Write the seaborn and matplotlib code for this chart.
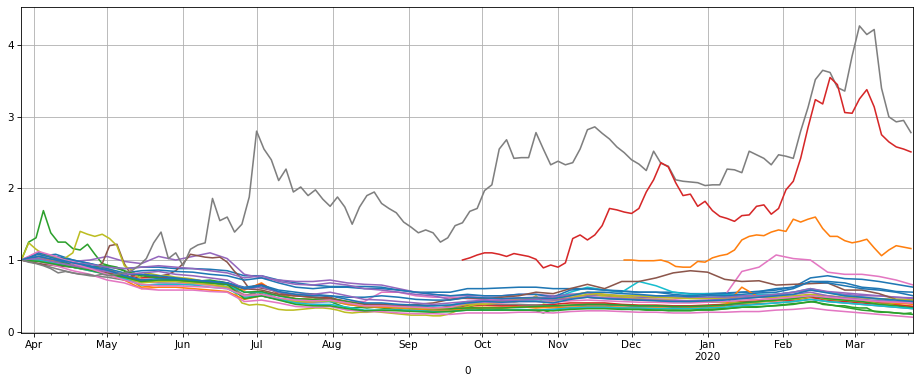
import pandas as pd
import matplotlib
matplotlib.use("Agg")
import matplotlib.pyplot as plt
import matplotlib.dates as mdates
from matplotlib.ticker import FuncFormatter
import seaborn as sns

# ------------------------------
# Data: cumulative price ratio
# 3-day series start 2019-03-27 unless stated, weekly series too
# ------------------------------
start_day = "2019-03-27"

gray_main = [1.00,0.97,0.95,0.92,0.88,0.82,0.84,0.82,0.80,0.80,
             0.78,0.80,0.78,0.80,0.82,0.85,0.92,1.02,1.24,1.39,
             1.02,1.10,0.92,1.15,1.21,1.24,1.86,1.55,1.60,1.39,
             1.50,1.88,2.80,2.55,2.40,2.11,2.27,1.95,2.02,1.90,
             1.98,1.85,1.75,1.88,1.74,1.50,1.74,1.90,1.95,1.79,
             1.72,1.66,1.53,1.46,1.38,1.42,1.38,1.25,1.31,1.48,
             1.52,1.68,1.72,1.97,2.05,2.55,2.68,2.42,2.43,2.43,
             2.78,2.55,2.33,2.38,2.33,2.36,2.55,2.82,2.86,2.77,
             2.69,2.58,2.50,2.40,2.34,2.25,2.52,2.35,2.31,2.12,
             2.10,2.09,2.08,2.04,2.05,2.05,2.27,2.26,2.22,2.52,
             2.47,2.42,2.33,2.47,2.45,2.42,2.80,3.13,3.52,3.65,
             3.62,3.41,3.36,3.85,4.27,4.15,4.22,3.40,3.00,2.93,
             2.95,2.78]

red_start = "2019-09-23"
red_main = [1.00,1.03,1.07,1.10,1.10,1.08,1.05,1.09,1.07,1.05,
            1.01,0.89,0.93,0.90,0.96,1.30,1.35,1.28,1.35,1.48,
            1.72,1.70,1.67,1.65,1.72,1.95,2.12,2.36,2.30,2.08,
            1.90,1.92,1.75,1.82,1.69,1.61,1.58,1.54,1.62,1.63,
            1.75,1.77,1.64,1.72,1.98,2.10,2.42,2.85,3.24,3.18,
            3.55,3.45,3.06,3.05,3.25,3.38,3.14,2.75,2.65,2.58,
            2.55,2.51]

orange_start = "2019-11-28"
orange_main = [1.00,1.00,0.99,0.99,0.99,1.00,0.97,0.91,0.90,0.90,
               0.98,0.97,1.03,1.06,1.08,1.14,1.28,1.33,1.35,1.34,
               1.39,1.42,1.40,1.57,1.53,1.57,1.60,1.44,1.33,1.33,
               1.27,1.24,1.26,1.29,1.17,1.06,1.14,1.20,1.18,1.16]

green_spike = [1.00,1.25,1.31,1.69,1.38,1.25,1.25,1.16,1.14,1.22,
               1.08,0.95,0.92,0.90,0.85,0.70,0.78,0.80,0.76,0.74,
               0.72,0.72,0.72,0.70,0.70,0.70,0.68,0.70,0.66,0.62,
               0.50,0.52,0.55,0.52,0.48,0.46,0.42,0.40,0.42,0.43,
               0.45,0.44,0.42,0.38,0.34,0.33,0.34,0.33,0.34,0.33,
               0.32,0.31,0.30,0.30,0.30,0.30,0.29,0.30,0.31,0.30,
               0.32,0.35,0.32,0.30,0.30,0.31,0.31,0.30,0.30,0.30,
               0.29,0.26,0.30,0.31,0.32,0.33,0.33,0.33,0.34,0.34,
               0.33,0.33,0.32,0.31,0.31,0.30,0.30,0.30,0.29,0.29,
               0.29,0.29,0.30,0.30,0.30,0.31,0.32,0.33,0.34,0.34,
               0.34,0.35,0.36,0.37,0.38,0.39,0.40,0.41,0.42,0.38,
               0.37,0.36,0.36,0.34,0.33,0.33,0.28,0.27,0.27,0.26,
               0.25,0.26]

olive_spike = [1.00,1.24,1.15,1.08,1.05,1.02,1.03,1.10,1.40,1.36,
               1.33,1.36,1.30,1.20,0.92,0.86,0.75,0.82,0.80,0.78,
               0.78,0.76,0.75,0.74,0.72,0.70,0.68,0.66,0.62,0.55,
               0.40,0.37,0.38,0.37,0.34,0.31,0.30,0.30,0.31,0.32,
               0.33,0.33,0.32,0.30,0.27,0.26,0.27,0.27,0.28,0.27,
               0.26,0.25,0.24,0.23,0.23,0.23,0.22,0.22,0.24,0.28,
               0.33,0.36,0.38,0.38,0.39,0.40,0.42,0.41,0.43,0.44,
               0.50,0.40,0.42,0.44,0.45,0.48,0.50,0.52,0.52,0.50,
               0.50,0.49,0.48,0.47,0.46,0.45,0.45,0.44,0.44,0.43,
               0.43,0.42,0.42,0.42,0.42,0.41,0.40,0.40,0.40,0.40,
               0.41,0.42,0.43,0.44,0.45,0.45,0.46,0.48,0.50,0.46,
               0.45,0.44,0.44,0.43,0.42,0.42,0.40,0.38,0.38,0.40,
               0.42,0.43]

brown_a = [1.00,0.98,1.00,0.97,0.95,0.93,0.92,0.90,0.90,0.88,
           0.90,0.95,1.20,1.22,0.95,0.78,0.80,0.78,0.77,0.78,
           0.80,0.85,0.95,1.08,1.06,1.04,1.03,1.04,0.97,0.84,
           0.74,0.60,0.62,0.60,0.58,0.55,0.52,0.50,0.52,0.53,
           0.52,0.50,0.48,0.44,0.40,0.38,0.38,0.37,0.37,0.36,
           0.35,0.34,0.33,0.33,0.34,0.35,0.33,0.33,0.35,0.36,
           0.37,0.40,0.40,0.42,0.42,0.43,0.44,0.45,0.46,0.46,
           0.46,0.45,0.45,0.46,0.47,0.47,0.48,0.48,0.47,0.47,
           0.46,0.46,0.45,0.45,0.44,0.44,0.44,0.43,0.43,0.43,
           0.42,0.42,0.42,0.42,0.41,0.41,0.41,0.41,0.41,0.42,
           0.42,0.43,0.44,0.45,0.46,0.47,0.48,0.50,0.52,0.48,
           0.46,0.45,0.44,0.43,0.43,0.42,0.41,0.40,0.40,0.40,
           0.41,0.41]

# weekly series
blue_a = [1.00,1.05,1.08,1.00,0.95,0.90,0.88,0.90,0.90,0.88,
          0.88,0.87,0.85,0.78,0.78,0.72,0.68,0.65,0.63,0.63,
          0.63,0.62,0.58,0.55,0.55,0.55,0.60,0.60,0.61,0.62,
          0.62,0.60,0.60,0.60,0.58,0.57,0.55,0.55,0.55,0.53,
          0.53,0.54,0.55,0.56,0.60,0.62,0.75,0.78,0.74,0.73,
          0.70,0.66,0.62]
purple_a = [1.00,1.02,1.00,0.98,1.00,1.05,0.98,0.95,1.05,1.00,
            1.05,1.10,1.02,0.80,0.75,0.72,0.70,0.70,0.72,0.68,
            0.66,0.65,0.60,0.55,0.52,0.50,0.50,0.50,0.50,0.52,
            0.52,0.50,0.52,0.50,0.50,0.48,0.48,0.47,0.48,0.47,
            0.47,0.48,0.48,0.50,0.52,0.55,0.58,0.55,0.52,0.50,
            0.50,0.48,0.47]
brown_b = [1.00,0.95,0.92,0.90,0.86,0.82,0.76,0.72,0.70,0.70,
           0.69,0.68,0.66,0.60,0.58,0.52,0.50,0.48,0.46,0.40,
           0.38,0.38,0.36,0.38,0.40,0.45,0.47,0.46,0.48,0.50,
           0.55,0.53,0.60,0.66,0.60,0.70,0.70,0.75,0.82,0.85,
           0.83,0.73,0.70,0.71,0.65,0.66,0.67,0.68,0.58,0.58,
           0.53,0.45,0.44]
cyan_a = [1.00,1.02,0.98,0.95,0.90,0.85,0.78,0.72,0.70,0.70,
          0.68,0.68,0.65,0.55,0.55,0.50,0.45,0.42,0.42,0.40,
          0.38,0.38,0.37,0.36,0.36,0.37,0.42,0.42,0.43,0.43,
          0.44,0.45,0.55,0.62,0.58,0.55,0.70,0.64,0.55,0.52,
          0.53,0.52,0.50,0.52,0.52,0.55,0.60,0.55,0.50,0.48,
          0.45,0.42,0.40]
pink_a = [1.00,1.10,1.05,0.98,0.90,0.82,0.74,0.70,0.68,0.67,
          0.66,0.65,0.62,0.52,0.50,0.45,0.42,0.40,0.42,0.42,
          0.42,0.55,0.55,0.50,0.48,0.48,0.46,0.45,0.45,0.46,
          0.46,0.47,0.48,0.48,0.47,0.47,0.46,0.45,0.45,0.47,
          0.50,0.50,0.84,0.90,1.07,1.02,1.00,0.83,0.80,0.80,
          0.77,0.72,0.65]
blue_b = [1.00,1.10,1.05,1.00,0.95,0.88,0.82,0.85,0.86,0.84,
          0.83,0.80,0.78,0.72,0.75,0.68,0.62,0.60,0.62,0.62,
          0.60,0.60,0.58,0.55,0.52,0.50,0.52,0.50,0.50,0.52,
          0.52,0.48,0.58,0.60,0.58,0.56,0.55,0.55,0.52,0.50,
          0.52,0.53,0.55,0.56,0.58,0.62,0.70,0.70,0.68,0.62,
          0.60,0.56,0.55]
blue_c = [1.00,1.05,1.00,0.95,0.90,0.85,0.80,0.80,0.78,0.75,
          0.72,0.70,0.68,0.62,0.65,0.58,0.55,0.52,0.50,0.48,
          0.48,0.50,0.48,0.45,0.44,0.44,0.48,0.47,0.46,0.47,
          0.47,0.46,0.50,0.55,0.55,0.53,0.52,0.50,0.50,0.49,
          0.50,0.50,0.52,0.54,0.55,0.60,0.70,0.68,0.64,0.60,
          0.58,0.55,0.50]
orange_b = [1.00,1.10,1.02,0.95,0.90,0.88,0.78,0.62,0.65,0.65,
            0.68,0.65,0.62,0.58,0.68,0.52,0.46,0.45,0.45,0.40,
            0.36,0.36,0.34,0.33,0.32,0.32,0.34,0.34,0.34,0.35,
            0.33,0.35,0.37,0.38,0.38,0.37,0.36,0.35,0.35,0.35,
            0.36,0.38,0.42,0.43,0.44,0.45,0.48,0.45,0.44,0.42,
            0.40,0.38,0.35]
orange_c = [1.00,1.05,0.98,0.90,0.85,0.80,0.72,0.60,0.62,0.62,
            0.60,0.58,0.56,0.45,0.50,0.45,0.42,0.42,0.44,0.38,
            0.35,0.34,0.33,0.32,0.30,0.30,0.32,0.33,0.33,0.34,
            0.34,0.33,0.34,0.35,0.35,0.34,0.33,0.33,0.32,0.33,
            0.34,0.36,0.62,0.48,0.46,0.48,0.50,0.47,0.45,0.44,
            0.42,0.40,0.38]
green_b = [1.00,1.00,0.97,0.95,0.90,0.92,0.85,0.78,0.75,0.72,
           0.70,0.72,0.68,0.55,0.56,0.50,0.46,0.45,0.46,0.42,
           0.38,0.37,0.35,0.33,0.32,0.32,0.33,0.33,0.33,0.34,
           0.35,0.36,0.37,0.38,0.38,0.37,0.36,0.36,0.35,0.35,
           0.36,0.37,0.40,0.42,0.44,0.46,0.50,0.46,0.44,0.42,
           0.38,0.36,0.33]
red_b = [1.00,1.02,0.98,0.92,0.88,0.82,0.78,0.75,0.76,0.75,
         0.72,0.70,0.68,0.60,0.66,0.55,0.50,0.48,0.47,0.42,
         0.38,0.38,0.36,0.35,0.33,0.34,0.36,0.37,0.36,0.37,
         0.37,0.38,0.40,0.40,0.40,0.38,0.37,0.37,0.36,0.36,
         0.37,0.38,0.40,0.42,0.43,0.44,0.48,0.44,0.42,0.40,
         0.38,0.37,0.35]
purple_b = [1.00,1.05,1.00,0.96,0.94,0.90,0.88,0.90,0.92,0.90,
            0.88,0.85,0.82,0.75,0.78,0.70,0.66,0.65,0.68,0.65,
            0.60,0.58,0.55,0.52,0.50,0.45,0.48,0.47,0.46,0.47,
            0.48,0.48,0.52,0.54,0.52,0.50,0.50,0.49,0.48,0.47,
            0.47,0.48,0.50,0.50,0.52,0.55,0.60,0.56,0.54,0.52,
            0.50,0.48,0.46]
purple_c = [1.00,1.02,0.97,0.92,0.88,0.84,0.80,0.82,0.84,0.80,
            0.78,0.75,0.72,0.60,0.62,0.55,0.52,0.52,0.55,0.50,
            0.45,0.44,0.42,0.40,0.38,0.40,0.42,0.44,0.43,0.44,
            0.45,0.44,0.46,0.48,0.47,0.46,0.45,0.44,0.43,0.43,
            0.44,0.45,0.47,0.48,0.50,0.52,0.55,0.50,0.47,0.45,
            0.43,0.42,0.40]
pink_b = [1.00,0.98,0.92,0.85,0.80,0.72,0.68,0.60,0.58,0.58,
          0.58,0.56,0.55,0.42,0.44,0.40,0.35,0.34,0.35,0.30,
          0.28,0.28,0.26,0.25,0.25,0.24,0.26,0.26,0.26,0.27,
          0.27,0.26,0.28,0.29,0.29,0.28,0.27,0.27,0.26,0.26,
          0.27,0.27,0.28,0.28,0.30,0.31,0.33,0.30,0.28,0.26,
          0.24,0.22,0.20]
gray_b = [1.00,0.95,0.88,0.82,0.78,0.76,0.72,0.70,0.72,0.72,
          0.70,0.68,0.66,0.50,0.56,0.46,0.42,0.42,0.43,0.38,
          0.35,0.35,0.33,0.32,0.31,0.32,0.38,0.38,0.38,0.38,
          0.37,0.36,0.36,0.37,0.37,0.36,0.35,0.35,0.34,0.34,
          0.35,0.36,0.38,0.39,0.40,0.42,0.45,0.42,0.40,0.38,
          0.36,0.34,0.32]
olive_b = [1.00,1.00,0.95,0.90,0.86,0.80,0.75,0.68,0.70,0.70,
           0.68,0.66,0.62,0.50,0.52,0.46,0.42,0.42,0.43,0.40,
           0.36,0.36,0.34,0.33,0.32,0.34,0.38,0.40,0.42,0.45,
           0.47,0.45,0.50,0.55,0.52,0.50,0.50,0.48,0.47,0.46,
           0.46,0.46,0.47,0.48,0.48,0.50,0.52,0.50,0.48,0.47,
           0.46,0.45,0.44]
cyan_b = [1.00,1.00,0.95,0.90,0.85,0.80,0.74,0.65,0.66,0.66,
          0.65,0.62,0.60,0.48,0.50,0.45,0.40,0.38,0.38,0.34,
          0.30,0.30,0.30,0.29,0.28,0.28,0.30,0.30,0.30,0.31,
          0.30,0.31,0.33,0.34,0.34,0.33,0.33,0.32,0.32,0.32,
          0.33,0.34,0.36,0.38,0.40,0.42,0.45,0.42,0.40,0.38,
          0.36,0.34,0.32]
blue_d = [1.00,1.08,1.02,0.96,0.92,0.86,0.78,0.72,0.74,0.74,
          0.72,0.70,0.68,0.60,0.64,0.56,0.52,0.50,0.50,0.45,
          0.40,0.40,0.38,0.37,0.36,0.37,0.40,0.42,0.41,0.42,
          0.42,0.40,0.45,0.48,0.46,0.45,0.44,0.43,0.42,0.42,
          0.43,0.44,0.46,0.48,0.50,0.52,0.58,0.54,0.50,0.48,
          0.46,0.44,0.42]
green_c = [1.00,0.98,0.94,0.90,0.86,0.80,0.76,0.70,0.72,0.72,
           0.70,0.68,0.66,0.46,0.50,0.44,0.38,0.36,0.36,0.32,
           0.29,0.30,0.29,0.28,0.27,0.28,0.30,0.30,0.30,0.30,
           0.30,0.29,0.31,0.32,0.32,0.31,0.31,0.30,0.30,0.30,
           0.31,0.32,0.34,0.35,0.36,0.38,0.42,0.38,0.34,0.30,
           0.28,0.26,0.24]
pink_c = [1.00,1.12,1.05,0.95,0.88,0.80,0.72,0.66,0.64,0.64,
          0.63,0.62,0.60,0.50,0.52,0.47,0.44,0.43,0.44,0.40,
          0.36,0.36,0.35,0.34,0.33,0.34,0.40,0.41,0.40,0.42,
          0.42,0.41,0.43,0.44,0.43,0.42,0.41,0.41,0.40,0.40,
          0.41,0.42,0.44,0.45,0.46,0.48,0.50,0.48,0.46,0.44,
          0.42,0.41,0.40]

# (name, values, start, step in days, tab10 index) in drawing order
series = [
    ("blue_a", blue_a, start_day, 7, 0), ("orange_b", orange_b, start_day, 7, 1),
    ("green_spike", green_spike, start_day, 3, 2), ("red_b", red_b, start_day, 7, 3),
    ("purple_a", purple_a, start_day, 7, 4), ("brown_a", brown_a, start_day, 3, 5),
    ("pink_a", pink_a, start_day, 7, 6), ("gray_b", gray_b, start_day, 7, 7),
    ("olive_spike", olive_spike, start_day, 3, 8), ("cyan_a", cyan_a, start_day, 7, 9),
    ("blue_b", blue_b, start_day, 7, 0), ("orange_c", orange_c, start_day, 7, 1),
    ("green_b", green_b, start_day, 7, 2), ("purple_b", purple_b, start_day, 7, 4),
    ("brown_b", brown_b, start_day, 7, 5), ("pink_b", pink_b, start_day, 7, 6),
    ("olive_b", olive_b, start_day, 7, 8), ("cyan_b", cyan_b, start_day, 7, 9),
    ("blue_c", blue_c, start_day, 7, 0), ("green_c", green_c, start_day, 7, 2),
    ("purple_c", purple_c, start_day, 7, 4), ("pink_c", pink_c, start_day, 7, 6),
    ("blue_d", blue_d, start_day, 7, 0),
    ("gray_main", gray_main, start_day, 3, 7), ("red_main", red_main, red_start, 3, 3),
    ("orange_main", orange_main, orange_start, 3, 1),
]

# long-form table for seaborn
frames = []
for name, vals, start, step, _ in series:
    frames.append(pd.DataFrame({
        "date": pd.date_range(start, periods=len(vals), freq=f"{step}D"),
        "value": vals,
        "series": name,
    }))
df = pd.concat(frames, ignore_index=True)

tab10 = sns.color_palette("tab10")
palette = {name: tab10[c] for name, _, _, _, c in series}
order = [s[0] for s in series]

# the reference looks like a default pandas plot scaled down by 3/4 -> dpi 75
fig = plt.figure(figsize=(920 / 75, 383 / 75), dpi=75)
ax = fig.add_axes([0.0232, 0.1305, 0.9696, 0.8504])
sns.lineplot(data=df, x="date", y="value", hue="series", hue_order=order,
             palette=palette, legend=False, errorbar=None, linewidth=1.5, ax=ax)

ax.set_xlim(pd.Timestamp("2019-03-27"), pd.Timestamp("2020-03-25"))
ax.set_ylim(-0.02, 4.53)
ax.set_yticks([0, 1, 2, 3, 4])

ax.xaxis.set_major_locator(mdates.MonthLocator())
ax.xaxis.set_minor_locator(mdates.WeekdayLocator(byweekday=mdates.MO))


def month_label(x, pos=None):
    d = mdates.num2date(x)
    if d.month == 1:
        return d.strftime("%b\n%Y")
    return d.strftime("%b")


ax.xaxis.set_major_formatter(FuncFormatter(month_label))
ax.grid(True, which="major", color="#b0b0b0", linewidth=0.8)
ax.set_xlabel("0")
ax.set_ylabel("")

fig.savefig("out.png", dpi=75)
